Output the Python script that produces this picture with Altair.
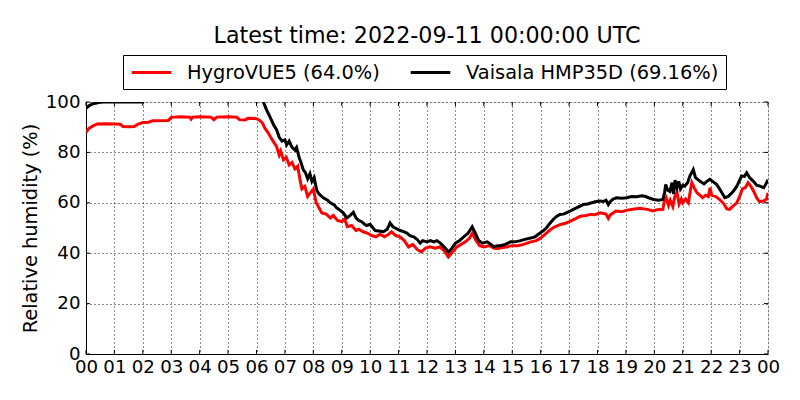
import altair as alt
import pandas as pd

red_name = "HygroVUE5 (64.0%)"
black_name = "Vaisala HMP35D (69.16%)"

red_h = [0.0, 0.1, 0.25, 0.4, 0.7, 1.0, 1.2, 1.3, 1.5, 1.7, 1.8, 2.0, 2.2, 2.35, 2.9, 3.0, 3.3, 3.65, 3.7, 3.75,
         4.0, 4.4, 4.5, 4.6, 5.0, 5.3, 5.4, 5.6, 5.7, 6.0, 6.1, 6.2, 6.3, 6.4, 6.5, 6.6, 6.7, 6.8, 6.85, 6.95,
         7.05, 7.15, 7.25, 7.35, 7.45, 7.55, 7.6, 7.7, 7.8, 7.9, 8.0, 8.1, 8.2, 8.3, 8.45, 8.6, 8.7, 8.85, 9.0, 9.1,
         9.2, 9.35, 9.5, 9.6, 9.75, 9.9, 10.05, 10.2, 10.35, 10.5, 10.65, 10.75, 10.9, 11.05, 11.2, 11.35, 11.5, 11.65, 11.8, 11.95,
         12.1, 12.3, 12.45, 12.6, 12.75, 12.9, 13.05, 13.2, 13.35, 13.5, 13.6, 13.7, 13.85, 14.0, 14.2, 14.35, 14.5, 14.65, 14.8, 15.0,
         15.2, 15.4, 15.65, 15.85, 16.0, 16.15, 16.35, 16.5, 16.7, 16.9, 17.05, 17.25, 17.4, 17.6, 17.75, 17.9, 18.1, 18.3, 18.38, 18.45,
         18.65, 18.85, 19.05, 19.3, 19.5, 19.75, 19.95, 20.1, 20.3, 20.35, 20.42, 20.5, 20.56, 20.65, 20.72, 20.8, 20.87, 20.95, 21.0, 21.1,
         21.2, 21.27, 21.32, 21.4, 21.5, 21.6, 21.7, 21.8, 21.9, 21.96, 22.02, 22.15, 22.3, 22.45, 22.55, 22.65, 22.75, 22.9, 23.0, 23.1,
         23.2, 23.3, 23.4, 23.5, 23.6, 23.7, 23.85, 23.95, 24.0]
red_v = [88.0, 89.5, 90.5, 91.3, 91.4, 91.3, 91.2, 90.3, 90.2, 90.3, 91.0, 91.9, 92.0, 92.6, 92.7, 93.9, 94.1, 94.0, 93.2, 94.0,
         94.1, 94.0, 93.0, 94.0, 94.1, 94.0, 93.0, 92.9, 93.5, 93.4, 92.8, 91.8, 89.5, 88.0, 86.0, 84.2, 82.5, 79.0, 80.5, 77.0,
         78.0, 75.0, 76.0, 73.5, 74.5, 68.0, 65.5, 66.5, 62.5, 64.0, 65.5, 60.0, 58.0, 56.0, 55.5, 54.0, 55.0, 53.0, 52.5, 53.5,
         50.5, 51.0, 49.0, 49.5, 48.5, 48.0, 47.0, 46.5, 47.5, 46.5, 47.5, 48.5, 47.0, 46.5, 45.0, 42.5, 43.5, 41.5, 40.5, 42.0,
         42.5, 42.0, 42.5, 41.0, 38.5, 40.5, 42.5, 43.5, 44.5, 46.0, 48.0, 45.5, 43.0, 42.5, 43.0, 42.0, 41.8, 42.3, 42.5, 43.0,
         43.0, 43.5, 44.5, 45.0, 46.0, 47.5, 49.4, 50.5, 51.4, 52.0, 52.7, 53.8, 54.7, 55.0, 55.4, 55.3, 56.0, 55.5, 53.8, 55.2,
         56.7, 56.5, 57.1, 57.5, 57.8, 57.4, 56.8, 57.2, 57.4, 60.5, 62.0, 59.0, 61.0, 58.5, 62.5, 64.0, 59.5, 61.5, 60.0, 61.5,
         60.0, 65.0, 68.0, 66.0, 64.0, 63.0, 62.0, 63.0, 62.5, 66.0, 63.0, 62.6, 61.3, 59.5, 57.6, 57.4, 58.5, 60.0, 62.5, 65.5,
         66.0, 68.0, 66.5, 64.5, 62.0, 60.5, 60.7, 61.5, 64.0]

black_h = [0.0, 0.1, 0.25, 0.45, 0.6, 0.9, 1.0, 1.9, 2.0, 2.05, 6.15, 6.25, 6.35, 6.47, 6.6, 6.71, 6.8, 6.9, 7.0, 7.06,
           7.15, 7.25, 7.35, 7.41, 7.5, 7.55, 7.65, 7.72, 7.8, 7.88, 7.95, 8.03, 8.12, 8.2, 8.35, 8.5, 8.6, 8.75, 8.82, 8.95,
           9.05, 9.18, 9.3, 9.41, 9.5, 9.59, 9.7, 9.8, 9.88, 10.0, 10.1, 10.18, 10.3, 10.47, 10.6, 10.7, 10.8, 10.88, 11.06, 11.2,
           11.29, 11.4, 11.53, 11.65, 11.76, 11.85, 12.0, 12.12, 12.24, 12.35, 12.47, 12.6, 12.76, 12.88, 13.0, 13.15, 13.29, 13.45, 13.59, 13.7,
           13.82, 13.95, 14.12, 14.25, 14.35, 14.47, 14.59, 14.75, 14.94, 15.1, 15.29, 15.45, 15.65, 15.8, 15.98, 16.1, 16.2, 16.3, 16.44, 16.55,
           16.67, 16.8, 16.9, 17.05, 17.15, 17.35, 17.5, 17.65, 17.8, 17.95, 18.09, 18.2, 18.3, 18.38, 18.45, 18.55, 18.67, 18.85, 19.03, 19.2,
           19.38, 19.55, 19.67, 19.8, 19.97, 20.15, 20.3, 20.36, 20.4, 20.47, 20.55, 20.62, 20.68, 20.73, 20.8, 20.86, 20.92, 21.0, 21.07, 21.17,
           21.25, 21.37, 21.45, 21.6, 21.75, 21.85, 21.95, 22.05, 22.19, 22.3, 22.48, 22.6, 22.78, 22.9, 23.07, 23.17, 23.25, 23.35, 23.48, 23.6,
           23.72, 23.85, 23.92, 24.0]
black_v = [97.5, 98.5, 99.3, 99.8, 100.0, 100.0, 100.0, 100.0, 100.0, 101.5, 101.5, 99.8, 97.0, 94.2, 91.0, 88.9, 86.0, 84.5, 85.0, 83.0,
           84.5, 82.0, 81.0, 82.0, 78.0, 76.5, 73.0, 72.0, 69.5, 71.5, 68.5, 70.0, 65.0, 63.5, 62.0, 61.0, 60.0, 59.0, 58.0, 57.0,
           56.0, 54.0, 55.0, 56.2, 54.0, 53.0, 52.5, 51.5, 51.0, 51.5, 50.0, 49.0, 48.8, 48.5, 49.5, 52.0, 50.5, 50.0, 49.0, 48.5,
           48.0, 47.0, 46.5, 45.5, 44.0, 45.0, 44.5, 45.0, 44.5, 45.0, 44.0, 42.5, 40.5, 42.0, 44.0, 45.0, 46.5, 48.0, 50.5, 48.0,
           45.0, 44.0, 44.5, 43.5, 42.5, 43.0, 43.0, 43.5, 44.5, 44.5, 45.0, 45.5, 46.0, 46.5, 48.0, 49.0, 50.0, 51.5, 53.4, 54.5,
           55.4, 55.5, 56.0, 56.8, 57.4, 58.5, 59.3, 59.5, 60.0, 60.5, 60.7, 60.5, 61.0, 59.3, 60.5, 61.5, 62.0, 61.8, 62.0, 62.5,
           62.4, 62.8, 62.6, 62.0, 61.3, 61.0, 61.3, 64.0, 67.3, 65.0, 64.5, 68.0, 63.5, 69.0, 66.0, 68.5, 65.5, 67.0, 66.6, 68.0,
           70.6, 73.2, 70.0, 68.6, 67.5, 68.5, 69.3, 68.5, 67.3, 65.5, 62.0, 62.5, 64.6, 66.5, 70.6, 70.5, 71.9, 70.0, 68.6, 67.0,
           66.6, 66.0, 67.3, 69.16]

hour_ticks = list(range(0, 25))
y_ticks = [0, 20, 40, 60, 80, 100]

df_red = pd.DataFrame({"hour": red_h, "rh": red_v, "series": red_name})
df_black = pd.DataFrame({"hour": black_h, "rh": black_v, "series": black_name})

# inward tick marks on all four sides (matplotlib classic look)
TX = 0.14   # tick length in hours (~4 px)
TY = 1.6    # tick length in % (~4 px)
ticks_rows = []
for h in hour_ticks:
    ticks_rows.append({"hour": h, "hour2": h, "rh": 0, "rh2": TY})
    ticks_rows.append({"hour": h, "hour2": h, "rh": 100, "rh2": 100 - TY})
for v in y_ticks:
    ticks_rows.append({"hour": 0, "hour2": TX, "rh": v, "rh2": v})
    ticks_rows.append({"hour": 24, "hour2": 24 - TX, "rh": v, "rh2": v})
df_ticks = pd.DataFrame(ticks_rows)

FONT = "DejaVu Sans"
FS = 19.4     # title/legend text
TFS = 18.2    # tick labels

color = alt.Color(
    "series:N",
    scale=alt.Scale(domain=[red_name, black_name], range=["#ff0000", "#000000"]),
    legend=alt.Legend(
        orient="none", legendX=37, legendY=-47, direction="horizontal", title=None,
        symbolType="M-2.2,0L2.2,0", symbolSize=324, symbolStrokeWidth=3,
        symbolOffset=11,
        labelFontSize=FS, labelFont=FONT, labelColor="black", labelLimit=400,
        strokeColor="black", fillColor="white", padding=7, columnPadding=24,
        labelOffset=25, cornerRadius=0,
    ),
)

x_axis = alt.Axis(values=hour_ticks, title=None,
                  labelExpr="datum.value == 24 ? '00' : (datum.value < 10 ? '0' + datum.value : '' + datum.value)",
                  labelFontSize=TFS, labelFont=FONT, labelColor="black", labelPadding=4,
                  labelOverlap=False,
                  tickSize=0, domainColor="black", labelFlush=False,
                  grid=True, gridColor="black", gridDash=[1, 3], gridOpacity=0.9)
y_axis = alt.Axis(values=y_ticks, title="Relative humidity (%)",
                  titleFontSize=FS, titleFont=FONT, titleFontWeight="normal", titleColor="black",
                  titlePadding=5,
                  labelFontSize=TFS, labelFont=FONT, labelColor="black", labelPadding=6,
                  labelOverlap=False,
                  tickSize=0, domainColor="black", labelFlush=False,
                  grid=True, gridColor="black", gridDash=[1, 3], gridOpacity=0.9)
x_scale = alt.Scale(domain=[0, 24], nice=False)
y_scale = alt.Scale(domain=[0, 100], nice=False)

x = alt.X("hour:Q", scale=x_scale, axis=x_axis)
y = alt.Y("rh:Q", scale=y_scale, axis=y_axis)

tick_layer = alt.Chart(df_ticks).mark_rule(color="black", strokeWidth=1).encode(
    x=x, x2="hour2:Q", y=y, y2="rh2:Q")

red_line = alt.Chart(df_red).mark_line(strokeWidth=3, clip=True).encode(x=x, y=y, color=color)
black_line = alt.Chart(df_black).mark_line(strokeWidth=3, clip=True).encode(x=x, y=y, color=color)

chart = alt.layer(red_line, black_line, tick_layer).properties(
    width=682, height=252,
    title=alt.TitleParams("Latest time: 2022-09-11 00:00:00 UTC", fontSize=22.2, font=FONT,
                          fontWeight="normal", color="black", anchor="middle", offset=7),
    autosize=alt.AutoSizeParams(type="none"),
    padding={"left": 78, "top": 94, "right": 24, "bottom": 38},
).configure_view(stroke="black", strokeWidth=1.2).configure(background="white")

chart.save("out.html", embed_options={"renderer": "svg", "actions": False})
